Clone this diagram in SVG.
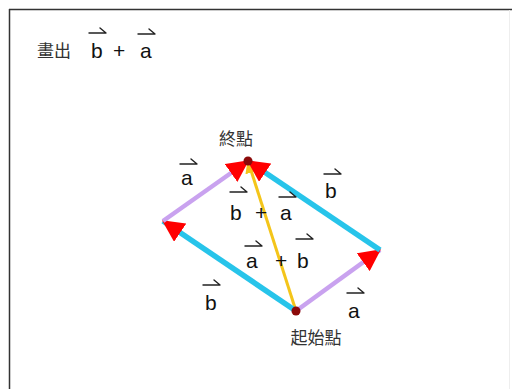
<svg xmlns="http://www.w3.org/2000/svg" width="512" height="389" viewBox="0 0 512 389">
<style>
.lbl{font-family:"Liberation Sans",Arial,sans-serif;font-size:21px;fill:#111;}
.cjk{font-family:"Noto Sans CJK TC","Noto Sans CJK SC",sans-serif;font-size:17px;fill:#333;}
.hp{fill:none;stroke:#222;stroke-width:1.4;stroke-linecap:round;stroke-linejoin:round;}
.vb{stroke:#27c4ea;stroke-width:5.5;fill:none;}
.va{stroke:#c9a2ef;stroke-width:4.5;fill:none;}
.vs{stroke:#f4c51a;stroke-width:3;fill:none;}
.dot{fill:#8b0a0a;}
</style>
<defs>
<marker id="red" viewBox="0 0 18 18" refX="17" refY="9" markerWidth="22" markerHeight="22" markerUnits="userSpaceOnUse" orient="auto">
<path d="M0,0 L18,9 L0,18 Z" fill="#ff0000"/>
</marker>
<marker id="yel" viewBox="0 0 12 12" refX="11" refY="6" markerWidth="13" markerHeight="13" markerUnits="userSpaceOnUse" orient="auto">
<path d="M0,0 L12,6 L0,12 Z" fill="#f4c51a"/>
</marker>
<path id="harp" d="M0,5 L17,5 L11,0"/>
</defs>
<rect x="0" y="0" width="512" height="389" fill="#fff"/>
<g id="frame">
<line x1="9" y1="9.5" x2="512" y2="9.5" stroke="#333" stroke-width="1.5"/>
<line x1="9.5" y1="9" x2="9.5" y2="389" stroke="#333" stroke-width="1.5"/>
<line x1="509.5" y1="10" x2="509.5" y2="389" stroke="#eee" stroke-width="1"/>
</g>
<g id="title">
<text class="cjk" x="37" y="57">畫出</text>
<text class="lbl" x="91" y="58">b</text>
<text class="lbl" x="113" y="58">+</text>
<text class="lbl" x="140" y="58">a</text>
<use href="#harp" class="hp" x="89" y="28"/>
<use href="#harp" class="hp" x="138" y="29"/>
</g>
<g id="connectors">
<line class="vs" x1="296" y1="311" x2="248" y2="161" marker-end="url(#yel)"/>
<line class="va" x1="296" y1="311" x2="380" y2="250" marker-end="url(#red)"/>
<line class="vb" x1="296" y1="311" x2="163" y2="221" marker-end="url(#red)"/>
<line class="va" x1="163" y1="221" x2="248" y2="161" marker-end="url(#red)"/>
<line class="vb" x1="380" y1="250" x2="248" y2="161" marker-end="url(#red)"/>
</g>
<g id="start">
<circle class="dot" cx="296" cy="311" r="4.5"/>
<text class="cjk" x="316" y="344" text-anchor="middle">起始點</text>
</g>
<g id="end">
<circle class="dot" cx="248" cy="161" r="4.5"/>
<text class="cjk" x="236" y="145" text-anchor="middle">終點</text>
</g>
<g id="label-a-left">
<text class="lbl" x="181" y="185">a</text>
<use href="#harp" class="hp" x="180" y="159"/>
</g>
<g id="label-b-right">
<text class="lbl" x="325" y="198">b</text>
<use href="#harp" class="hp" x="324" y="169"/>
</g>
<g id="label-b-plus-a">
<text class="lbl" x="230" y="220">b</text>
<text class="lbl" x="255" y="220">+</text>
<text class="lbl" x="280" y="220">a</text>
<use href="#harp" class="hp" x="230" y="187"/>
<use href="#harp" class="hp" x="279" y="192"/>
</g>
<g id="label-a-plus-b">
<text class="lbl" x="246" y="268">a</text>
<text class="lbl" x="275" y="268">+</text>
<text class="lbl" x="297" y="268">b</text>
<use href="#harp" class="hp" x="245" y="241"/>
<use href="#harp" class="hp" x="296" y="234"/>
</g>
<g id="label-b-bottom">
<text class="lbl" x="205" y="310">b</text>
<use href="#harp" class="hp" x="203" y="280"/>
</g>
<g id="label-a-bottom">
<text class="lbl" x="348" y="318">a</text>
<use href="#harp" class="hp" x="347" y="288"/>
</g>
</svg>
